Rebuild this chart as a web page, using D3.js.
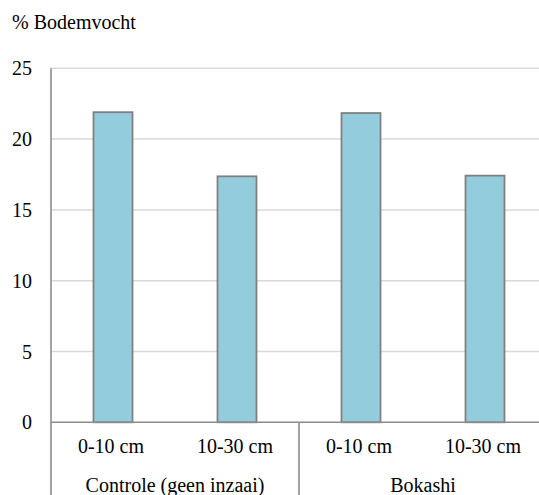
<!DOCTYPE html>
<html>
<head>
<meta charset="utf-8">
<script src="https://cdn.jsdelivr.net/npm/d3@7"></script>
<style>
  html, body { margin: 0; padding: 0; background: #fff; }
  svg { display: block; }
</style>
</head>
<body>
<svg id="chart" width="539" height="495"></svg>
<script>
// Soil moisture per treatment and depth
const groups = ["Controle (geen inzaai)", "Bokashi"];
const categories = ["Controle|0-10", "Controle|10-30", "Bokashi|0-10", "Bokashi|10-30"];
const depthLabels = ["0-10 cm", "10-30 cm", "0-10 cm", "10-30 cm"];
const values = [21.9, 17.37, 21.84, 17.42];
const yTicks = [0, 5, 10, 15, 20, 25];
const yTitle = "% Bodemvocht";

const FONT = "Liberation Serif";
const FS = 20;

const svg = d3.select("#chart");
const plotLeft = 51, plotRight = 547, plotTop = 68.3, plotBottom = 422.3;

const x = d3.scaleBand().domain(categories).range([plotLeft, plotRight]).padding(0);
const y = d3.scaleLinear().domain([0, 25]).range([plotBottom, plotTop]);
const barW = 39;

function label(sel) {
  return sel.attr("font-family", FONT).attr("font-size", FS).attr("fill", "#000");
}

// title
svg.append("text").attr("x", 12).attr("y", 29).call(label).text(yTitle);

// gridlines
svg.append("g").selectAll("line").data(yTicks.filter(d => d > 0)).join("line")
  .attr("x1", plotLeft).attr("x2", 539)
  .attr("y1", d => y(d)).attr("y2", d => y(d))
  .attr("stroke", "#d9d9d9").attr("stroke-width", 1.5);

// y tick labels
svg.append("g").selectAll("text").data(yTicks).join("text")
  .attr("x", 32).attr("y", d => y(d)).attr("dy", "0.35em")
  .attr("text-anchor", "end").call(label)
  .text(d => d);

// bars
svg.append("g").selectAll("rect").data(values).join("rect")
  .attr("x", (d, i) => x(categories[i]) + x.bandwidth() / 2 - barW / 2)
  .attr("width", barW)
  .attr("y", d => y(d))
  .attr("height", d => y(0) - y(d))
  .attr("fill", "#93cddd")
  .attr("stroke", "#808080").attr("stroke-width", 1.8);

// axes
const axisColor = "#8c8c8c";
svg.append("line").attr("x1", plotLeft).attr("x2", plotLeft).attr("y1", plotTop).attr("y2", 495)
  .attr("stroke", axisColor).attr("stroke-width", 1.6);
svg.append("line").attr("x1", plotLeft).attr("x2", 539).attr("y1", y(0)).attr("y2", y(0))
  .attr("stroke", axisColor).attr("stroke-width", 1.6);

// group divider
const groupStart = g => x(categories[g * 2]);
const groupEnd = g => x(categories[g * 2 + 1]) + x.bandwidth();
svg.append("line").attr("x1", groupEnd(0)).attr("x2", groupEnd(0))
  .attr("y1", y(0)).attr("y2", 495)
  .attr("stroke", axisColor).attr("stroke-width", 1.6);

// depth labels
svg.append("g").selectAll("text").data(depthLabels).join("text")
  .attr("x", (d, i) => x(categories[i]) + x.bandwidth() / 2 - 2)
  .attr("y", 453).attr("text-anchor", "middle").call(label)
  .text(d => d);

// group labels
svg.append("g").selectAll("text").data(groups).join("text")
  .attr("x", (d, i) => (groupStart(i) + groupEnd(i)) / 2)
  .attr("y", 492).attr("text-anchor", "middle").call(label)
  .text(d => d);
</script>
</body>
</html>
